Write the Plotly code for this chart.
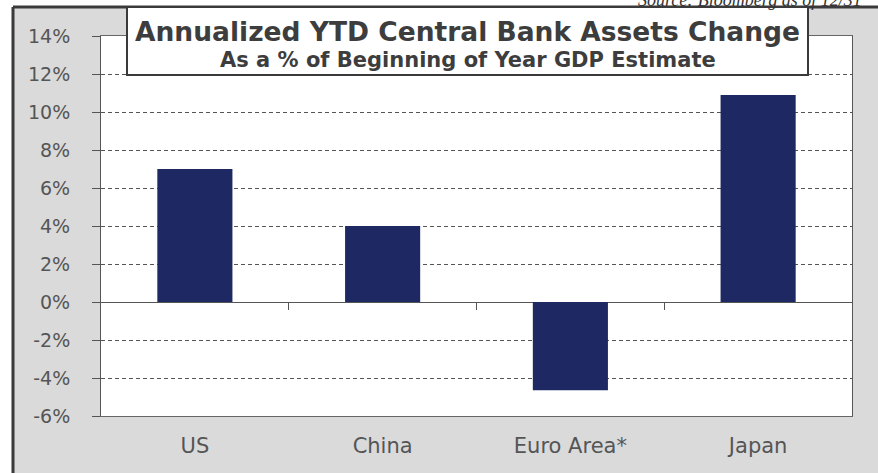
import plotly.graph_objects as go

categories = ["US", "China", "Euro Area*", "Japan"]
values = [7.0, 4.0, -4.65, 10.9]
y_ticks = [-6, -4, -2, 0, 2, 4, 6, 8, 10, 12, 14]
y_tick_labels = [f"{v}%" for v in y_ticks]
title_text = "Annualized YTD Central Bank Assets Change"
subtitle_text = "As a % of Beginning of Year GDP Estimate"
source_text = "Source: Bloomberg as of 12/31"

W, H = 878, 473
ML, MR, MT, MB = 101, 26, 36, 57
pw, ph = W - ML - MR, H - MT - MB

def px(x):
    return (x - ML) / pw

def py(y):
    return (H - MB - y) / ph

fig = go.Figure()
fig.add_trace(go.Bar(x=categories, y=values, marker=dict(color="#1E2862", line=dict(width=0)),
                     width=0.4, showlegend=False))
# invisible trace for the zero-line tick axis
fig.add_trace(go.Scatter(x=[None], y=[None], xaxis="x2", showlegend=False))

gray_txt = "#555555"
fig.update_layout(
    width=W, height=H,
    margin=dict(l=ML, r=MR, t=MT, b=MB),
    paper_bgcolor="#dadada",
    plot_bgcolor="white",
    font=dict(family="DejaVu Sans", color=gray_txt, size=19),
    xaxis=dict(type="category", categoryorder="array", categoryarray=categories,
               range=[-0.5, 3.5], showgrid=False, zeroline=False,
               showline=True, linecolor="#666666", linewidth=1, mirror=True,
               ticks="", ticklabelstandoff=11,
               tickfont=dict(size=21, color=gray_txt)),
    xaxis2=dict(overlaying="x", anchor="free", position=6 / 20, range=[-0.5, 3.5],
                tickvals=[0.5, 1.5, 2.5], ticks="outside", ticklen=7, tickcolor="#555555",
                tickwidth=1, showticklabels=False, showgrid=False, zeroline=False,
                showline=False, side="bottom"),
    yaxis=dict(range=[-6, 14], tickvals=y_ticks, ticktext=y_tick_labels,
               showgrid=True, gridcolor="#555555", gridwidth=1, griddash="4px,3px",
               zeroline=True, zerolinecolor="#555555", zerolinewidth=1,
               showline=True, linecolor="#555555", linewidth=1, mirror=True,
               ticks="outside", ticklen=8, tickcolor="#555555",
               ticklabelstandoff=18, tickfont=dict(size=19, color=gray_txt)),
    bargap=0.6,
    hovermode=False,
)

frame_x = px(13)
frame_y = py(7)
shapes = [
    # white area outside the outer frame
    dict(type="rect", xref="paper", yref="paper", x0=-1, x1=2, y0=frame_y, y1=2,
         fillcolor="white", line=dict(width=0), layer="below"),
    dict(type="rect", xref="paper", yref="paper", x0=-1, x1=frame_x, y0=-1, y1=2,
         fillcolor="white", line=dict(width=0), layer="below"),
    # outer frame lines
    dict(type="line", xref="paper", yref="paper", x0=frame_x, x1=2, y0=frame_y, y1=frame_y,
         line=dict(color="#3a3a3a", width=3), layer="above"),
    dict(type="line", xref="paper", yref="paper", x0=frame_x, x1=frame_x, y0=-1, y1=frame_y,
         line=dict(color="#3a3a3a", width=3), layer="above"),
    # title box
    dict(type="rect", xref="paper", yref="paper", x0=px(127), x1=px(808), y0=py(75), y1=frame_y,
         fillcolor="white", line=dict(color="#3a3a3a", width=2), layer="above"),
]
fig.update_layout(shapes=shapes)

fig.add_annotation(text=f"<b>{title_text}</b>", xref="paper", yref="paper",
                   x=px(467.5), y=py(31), xanchor="center", yanchor="middle", showarrow=False,
                   font=dict(family="DejaVu Sans", size=26.5, color="#3d3d3d"))
fig.add_annotation(text=f"<b>{subtitle_text}</b>", xref="paper", yref="paper",
                   x=px(467.5), y=py(60), xanchor="center", yanchor="middle", showarrow=False,
                   font=dict(family="DejaVu Sans", size=21, color="#3d3d3d"))
fig.add_annotation(text=f"<i>{source_text}</i>", xref="paper", yref="paper",
                   x=px(864), y=py(0), xanchor="right", yanchor="middle", showarrow=False,
                   font=dict(family="Liberation Serif", size=18, color="#333333"))

fig.write_html("out.html", config={"displayModeBar": False},
               post_script="document.body.style.margin='0';")
